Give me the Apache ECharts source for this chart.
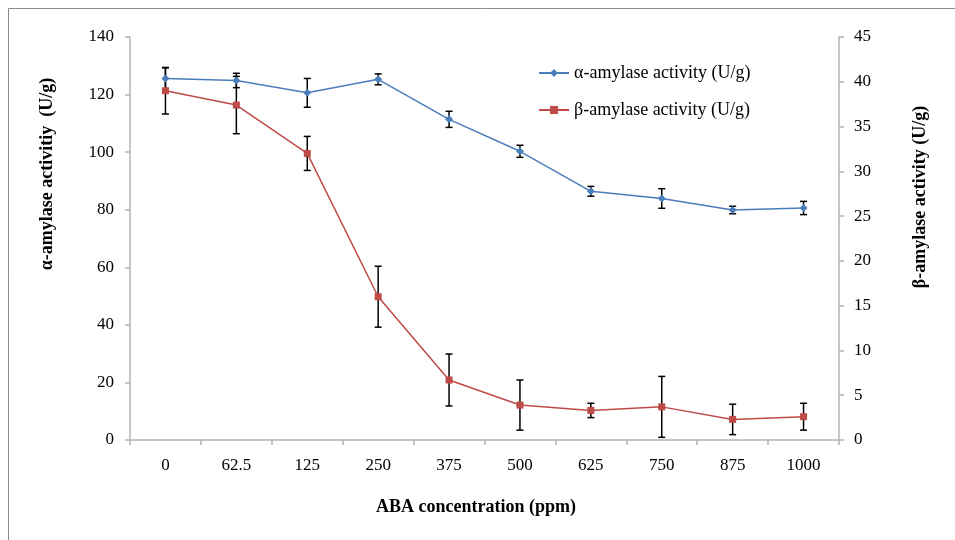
<!DOCTYPE html>
<html>
<head>
<meta charset="utf-8">
<style>
  html, body { margin: 0; padding: 0; background: #ffffff; }
  #chart { width: 955px; height: 540px; }
</style>
<script src="https://cdn.jsdelivr.net/npm/echarts@6/dist/echarts.min.js"></script>
</head>
<body>
<div id="chart"></div>
<script>
// ABA concentrations (ppm)
const categories = ['0', '62.5', '125', '250', '375', '500', '625', '750', '875', '1000'];

// α-amylase activity (U/g), left axis, with standard error
const alphaValues = [125.6, 124.9, 120.6, 125.3, 111.4, 100.3, 86.4, 83.9, 79.9, 80.6];
const alphaErrors = [3.7, 2.5, 5.0, 1.9, 2.8, 2.1, 1.7, 3.4, 1.3, 2.3];

// β-amylase activity (U/g), right axis, with standard error
const betaValues = [39.0, 37.4, 32.0, 16.0, 6.7, 3.9, 3.3, 3.7, 2.3, 2.6];
const betaErrors = [2.6, 3.2, 1.9, 3.4, 2.9, 2.8, 0.8, 3.4, 1.7, 1.5];

const alphaName = 'α-amylase activity (U/g)';
const betaName = 'β-amylase activity (U/g)';

const serif = '"Liberation Serif", "Times New Roman", serif';
const axisGrey = '#b3b3b3';
const blue = '#4a7ebb';
const red = '#be4b48';

// Vertical error bar with caps, drawn in the coordinate system of the given axis
function errorBarSeries(values, errors, yAxisIndex) {
  const data = values.map((v, i) => [i, v - errors[i], v + errors[i]]);
  return {
    type: 'custom',
    yAxisIndex: yAxisIndex,
    silent: true,
    z: 1,
    data: data,
    renderItem: function (params, api) {
      const x = api.value(0);
      const lo = api.coord([x, api.value(1)]);
      const hi = api.coord([x, api.value(2)]);
      const half = 3.5;
      const style = { stroke: '#000000', lineWidth: 1.5, fill: null };
      return {
        type: 'group',
        children: [
          { type: 'line', shape: { x1: hi[0], y1: hi[1], x2: lo[0], y2: lo[1] }, style: style },
          { type: 'line', shape: { x1: hi[0] - half, y1: hi[1], x2: hi[0] + half, y2: hi[1] }, style: style },
          { type: 'line', shape: { x1: lo[0] - half, y1: lo[1], x2: lo[0] + half, y2: lo[1] }, style: style }
        ]
      };
    }
  };
}

const chart = echarts.init(document.getElementById('chart'), null, { renderer: 'canvas' });

const axisLabelStyle = { fontFamily: serif, fontSize: 17, color: '#000000' };

chart.setOption({
  animation: false,
  backgroundColor: '#ffffff',
  grid: { left: 130, right: 116, top: 37, bottom: 100, containLabel: false },
  legend: {
    orient: 'vertical',
    left: 538,
    top: 64,
    padding: 0,
    itemWidth: 30,
    itemHeight: 10,
    itemGap: 19,
    textStyle: { fontFamily: serif, fontSize: 18, color: '#000000' },
    data: [alphaName, betaName]
  },
  xAxis: {
    type: 'category',
    data: categories,
    boundaryGap: true,
    axisLine: { lineStyle: { color: axisGrey, width: 1.5 } },
    axisTick: { show: true, inside: false, length: 5, alignWithLabel: false, lineStyle: { color: axisGrey, width: 1.5 } },
    axisLabel: Object.assign({ margin: 17, interval: 0 }, axisLabelStyle),
    splitLine: { show: false }
  },
  yAxis: [
    {
      type: 'value',
      min: 0, max: 140, interval: 20,
      position: 'left',
      axisLine: { show: true, lineStyle: { color: axisGrey, width: 1.5 } },
      axisTick: { show: true, length: 5, lineStyle: { color: axisGrey, width: 1.5 } },
      axisLabel: Object.assign({ margin: 16 }, axisLabelStyle),
      splitLine: { show: false }
    },
    {
      type: 'value',
      min: 0, max: 45, interval: 5,
      position: 'right',
      axisLine: { show: true, lineStyle: { color: axisGrey, width: 1.5 } },
      axisTick: { show: true, length: 5, lineStyle: { color: axisGrey, width: 1.5 } },
      axisLabel: Object.assign({ margin: 15 }, axisLabelStyle),
      splitLine: { show: false }
    }
  ],
  series: [
    errorBarSeries(alphaValues, alphaErrors, 0),
    errorBarSeries(betaValues, betaErrors, 1),
    {
      name: alphaName,
      type: 'line',
      yAxisIndex: 0,
      data: alphaValues,
      z: 3,
      symbol: 'diamond',
      symbolSize: 8,
      lineStyle: { color: blue, width: 1.5 },
      itemStyle: { color: blue },
      emphasis: { disabled: true }
    },
    {
      name: betaName,
      type: 'line',
      yAxisIndex: 1,
      data: betaValues,
      z: 3,
      symbol: 'rect',
      symbolSize: 7,
      lineStyle: { color: red, width: 1.5 },
      itemStyle: { color: red },
      emphasis: { disabled: true }
    }
  ],
  graphic: [
    {
      type: 'rect',
      silent: true,
      shape: { x: 8.5, y: 8.5, width: 1200, height: 1200 },
      style: { fill: null, stroke: '#8c8c8c', lineWidth: 1 }
    },
    {
      type: 'text',
      silent: true,
      x: 476, y: 507,
      style: {
        text: 'ABA concentration (ppm)',
        font: 'bold 18px ' + serif,
        fill: '#000000',
        align: 'center',
        verticalAlign: 'middle'
      }
    },
    {
      type: 'text',
      silent: true,
      x: 47, y: 174,
      rotation: Math.PI / 2,
      style: {
        text: 'α-amylase activitiy  (U/g)',
        font: 'bold 18px ' + serif,
        fill: '#000000',
        align: 'center',
        verticalAlign: 'middle'
      }
    },
    {
      type: 'text',
      silent: true,
      x: 920, y: 197,
      rotation: Math.PI / 2,
      style: {
        text: 'β-amylase activity (U/g)',
        font: 'bold 18px ' + serif,
        fill: '#000000',
        align: 'center',
        verticalAlign: 'middle'
      }
    }
  ]
});
</script>
</body>
</html>
